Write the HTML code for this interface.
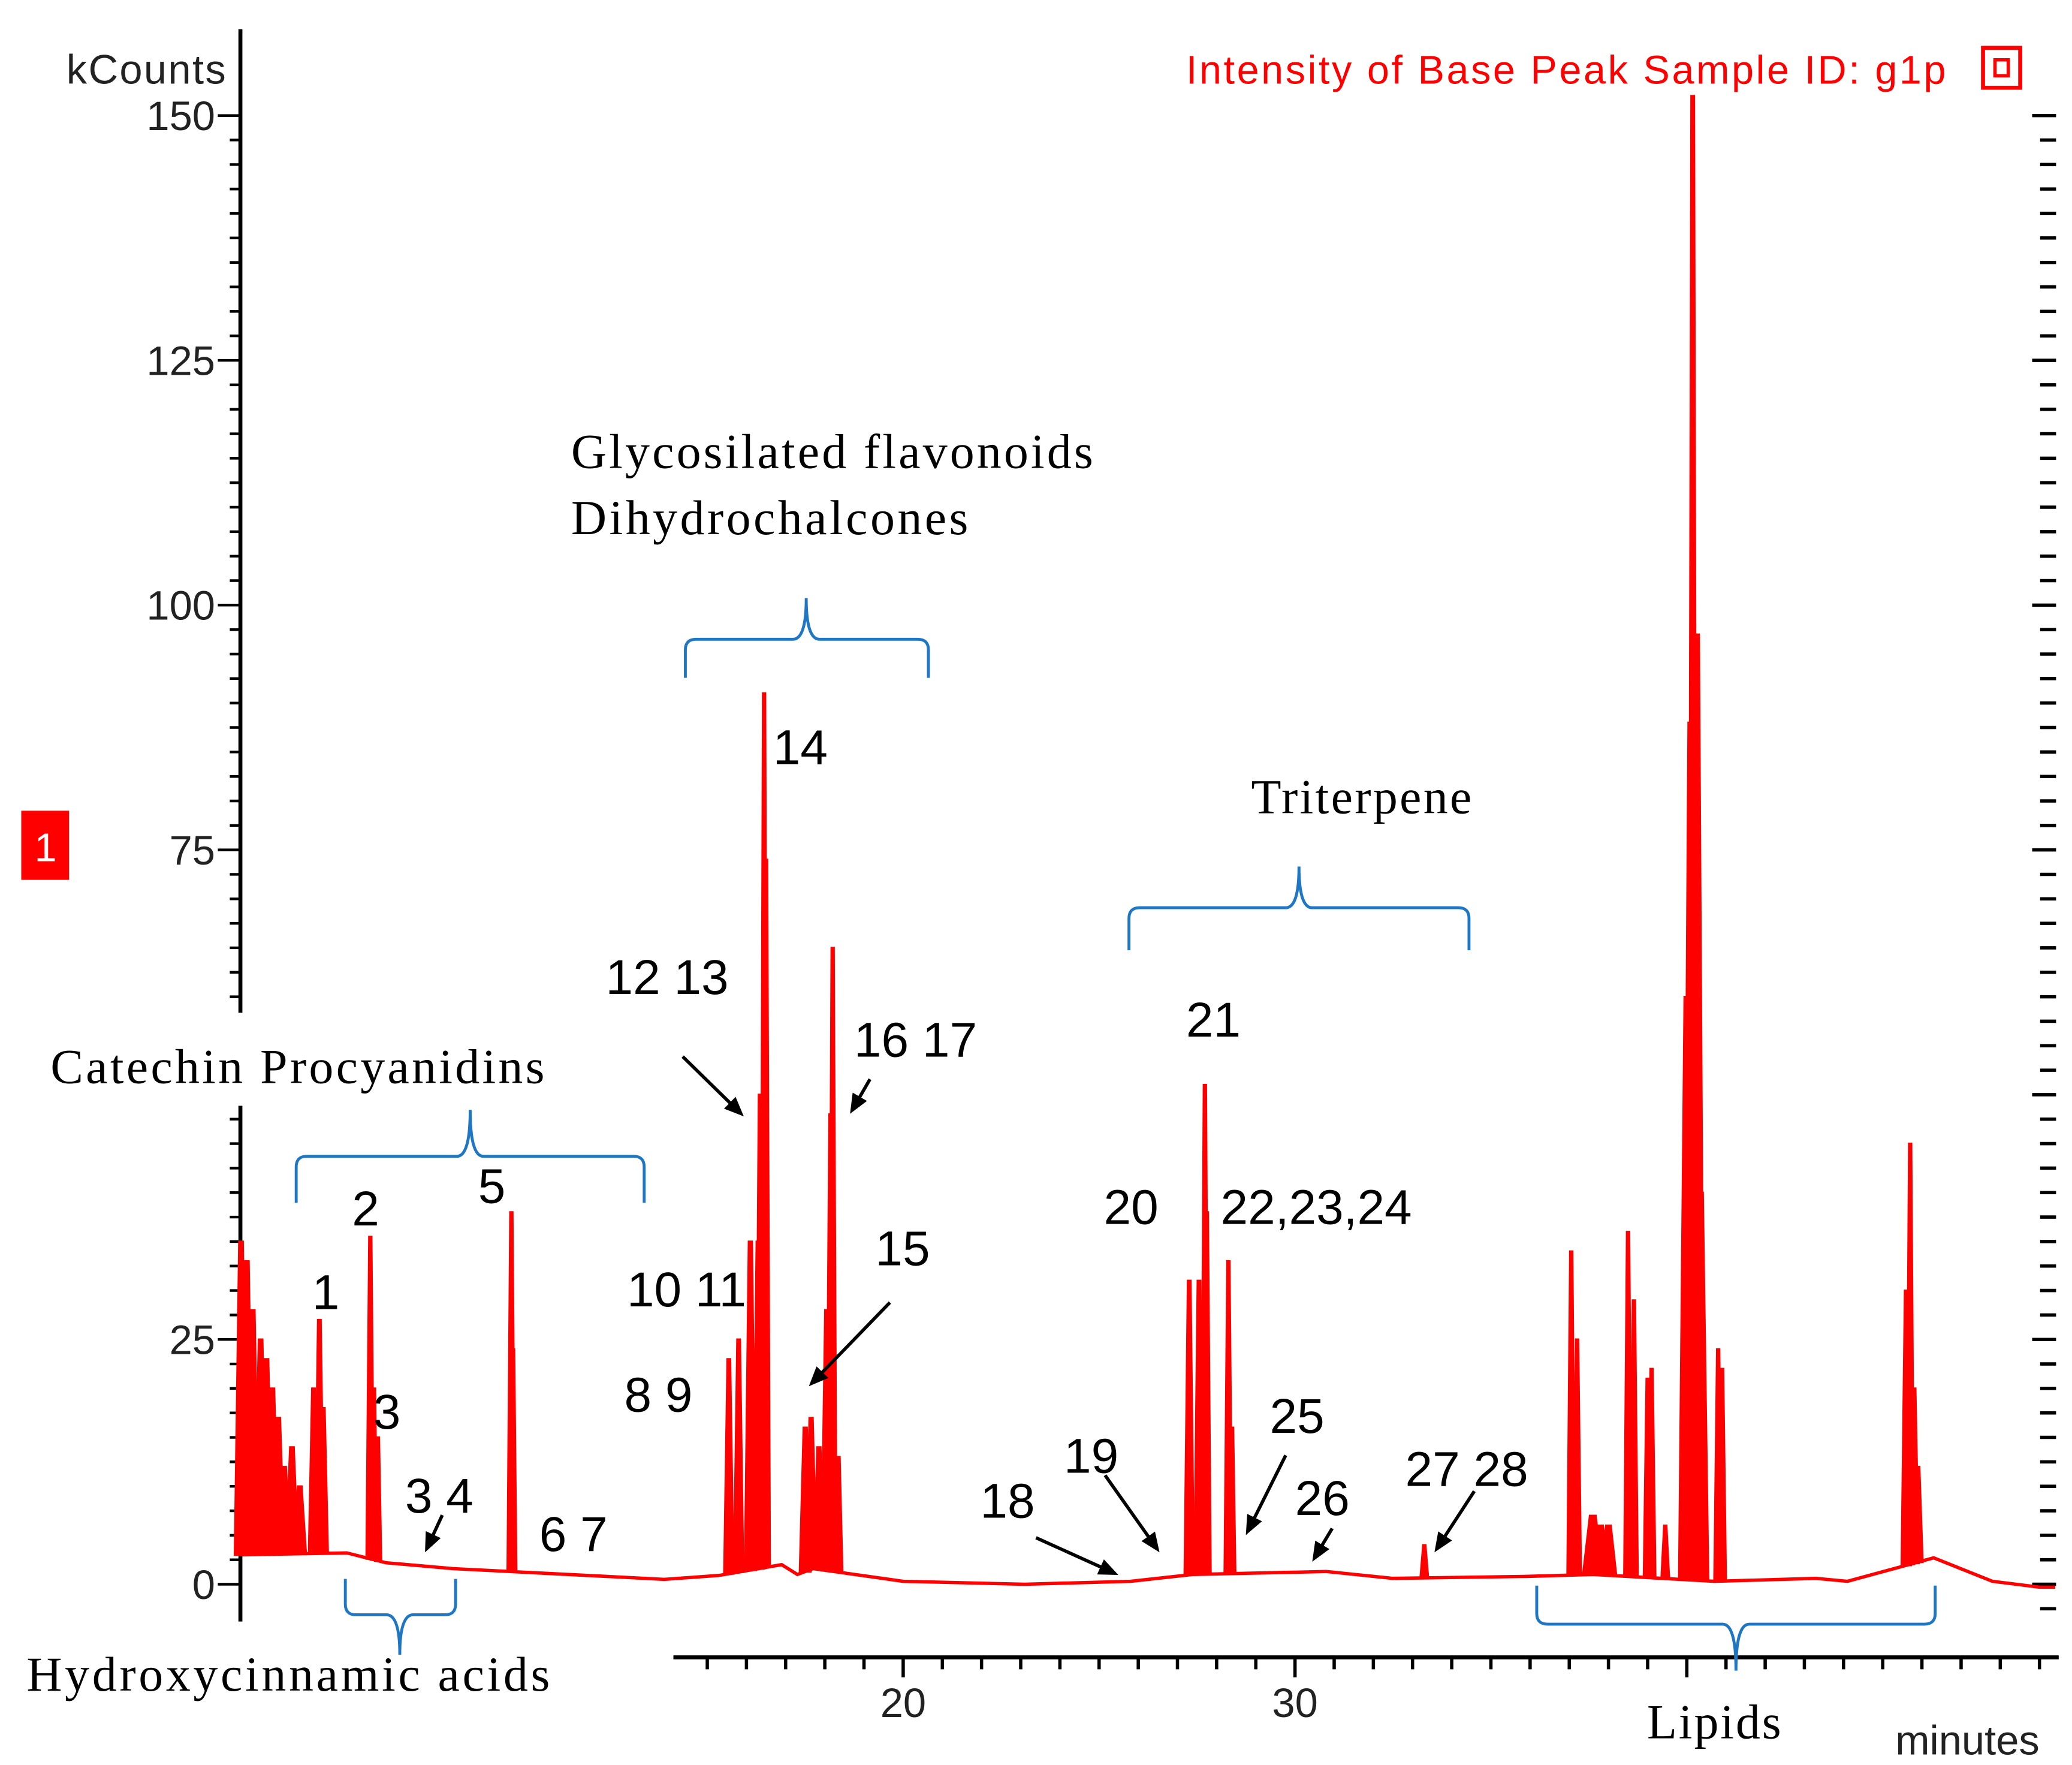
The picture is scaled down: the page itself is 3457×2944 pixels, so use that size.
<!DOCTYPE html>
<html><head><meta charset="utf-8"><style>
html,body{margin:0;padding:0;background:#fff}
svg{display:block}
.num{font-family:"Liberation Sans",sans-serif;font-size:37px;fill:#000}
.ser{font-family:"Liberation Serif",serif;font-size:37px;fill:#000}
.ax{font-family:"Liberation Sans",sans-serif;font-size:31px;fill:#222}
</style></head><body>
<svg id="chart" width="3457" height="2944" viewBox="0 0 1560 1328" preserveAspectRatio="none" xmlns="http://www.w3.org/2000/svg">
<g id="axes"></g>
<g id="trace"></g>
<g id="ann" stroke="#000" stroke-width="2.5" fill="none"></g>
<text class="ax" x="50" y="63" textLength="120">kCounts</text>
<text x="893" y="63" textLength="572" font-family="Liberation Sans,sans-serif" font-size="30" fill="#ff0000">Intensity of Base Peak Sample ID: g1p</text>
<rect x="1493" y="36" width="28" height="30" fill="none" stroke="#ff0000" stroke-width="3"/>
<rect x="1502" y="45" width="10" height="12" fill="none" stroke="#ff0000" stroke-width="2.5"/>
<rect x="16" y="610" width="36" height="52" fill="#ff0000"/>
<text x="26" y="648" font-family="Liberation Sans,sans-serif" font-size="30" fill="#fff">1</text>
<text class="ax" x="1427" y="1320">minutes</text>
<text class="ser" x="430" y="352" textLength="393">Glycosilated flavonoids</text>
<text class="ser" x="430" y="402" textLength="299">Dihydrochalcones</text>
<text class="ser" x="942" y="612" textLength="166">Triterpene</text>
<text class="ser" x="38" y="815" textLength="372">Catechin Procyanidins</text>
<text class="ser" x="20" y="1272" textLength="394">Hydroxycinnamic acids</text>
<text class="ser" x="1240" y="1308" textLength="101">Lipids</text>
</svg>
<script>
const yTicks=[0,25,50,75,100,125,150];
const yTickLabels=["0","25","","75","100","125","150"];
const xTicks=[20,30];
const baseT=[3.1,5.8,6.8,8.5,13.9,15.3,16.9,17.3,17.7,20.0,23.1,25.8,27.4,30.8,32.5,35.9,37.6,40.7,43.3,44.1,46.3,47.8,49.0,49.4];
const baseV=[3.0,3.2,2.2,1.6,0.5,0.9,2.0,1.0,1.6,0.3,0,0.3,1.0,1.3,0.6,0.8,1.0,0.3,0.6,0.3,2.7,0.3,-0.3,-0.3];
const peakT=[3.1,3.25,3.4,3.6,3.75,3.9,4.05,4.2,4.4,4.6,4.95,5.1,5.2,6.4,6.5,6.6,10.0,10.05,15.55,15.8,16.1,16.3,16.35,16.45,16.5,17.5,17.65,17.85,18.05,18.15,18.2,18.35,27.3,27.55,27.7,27.75,28.3,28.4,33.3,37.05,37.2,37.6,37.8,38.0,38.5,38.65,39.0,39.1,39.45,40.0,40.1,40.15,40.25,40.35,40.8,40.9,45.6,45.7,45.8,45.9];
const peakV=[35,33,28,25,23,20,17,12,14,10,20,27,18,35.5,20,15,38,24,23,25,35,35,50,91,74,16,17,14,28,48,65,13,31,31,51,38,33,16,4,34,25,7,6,6,36,29,21,22,6,60,88,152,97,40,24,22,30,45,20,12];
const peakW=[0.16,0.16,0.16,0.16,0.16,0.16,0.16,0.16,0.16,0.16,0.12,0.12,0.12,0.1,0.08,0.08,0.1,0.08,0.12,0.12,0.14,0.14,0.12,0.1,0.1,0.14,0.14,0.14,0.14,0.12,0.1,0.1,0.12,0.12,0.1,0.1,0.1,0.08,0.1,0.1,0.1,0.25,0.2,0.2,0.1,0.1,0.1,0.1,0.1,0.2,0.2,0.12,0.2,0.2,0.1,0.1,0.12,0.1,0.12,0.12];
const X=t=>90+29.5*t, Y=v=>1192-v*7.367;
const NS="http://www.w3.org/2000/svg";
function mk(tag,attrs,parent){const e=document.createElementNS(NS,tag);for(const k in attrs)e.setAttribute(k,attrs[k]);parent.appendChild(e);return e;}
function baseAt(t){for(let i=0;i<baseT.length-1;i++){if(t>=baseT[i]&&t<=baseT[i+1]){const f=(t-baseT[i])/(baseT[i+1]-baseT[i]);return baseV[i]+f*(baseV[i+1]-baseV[i]);}}return 0;}
const ax=document.getElementById('axes');
let l=mk('line',{x1:181,y1:22,x2:181,y2:1220,stroke:'#000','stroke-width':3},ax);


for(let v=0;v<=150;v+=2.5){const maj=v%25===0;
 const t=mk('line',{x1:maj?164:173,y1:Y(v),x2:181,y2:Y(v),stroke:'#000','stroke-width':2},ax);
 
 }
mk('rect',{x:160,y:762,width:30,height:70,fill:'#fff'},ax);
yTicks.forEach((v,i)=>{const t=mk('text',{x:162,y:Y(v)+11,'text-anchor':'end',class:'ax'},ax);t.textContent=yTickLabels[i];
 
 });
for(let v=-2.5;v<=150;v+=2.5){const maj=Math.abs(v%25)<0.01;
 const t=mk('line',{x1:maj?1530:1536,y1:Y(v),x2:1548,y2:Y(v),stroke:'#000','stroke-width':2.5},ax);
 
 }
l=mk('line',{x1:507,y1:1247,x2:1550,y2:1247,stroke:'#000','stroke-width':3},ax);


for(let m=15;m<=49;m++){const t=mk('line',{x1:X(m),y1:1247,x2:X(m),y2:m%10===0?1262:1256,stroke:'#000','stroke-width':2.5},ax);
 
 }
xTicks.forEach(v=>{const t=mk('text',{x:X(v),y:1292,'text-anchor':'middle',class:'ax'},ax);t.textContent=String(v);
 
 });
const tr=document.getElementById('trace');
const pts=baseT.map((t,i)=>X(t)+','+Y(baseV[i])).join(' ');
const bl=mk('polyline',{points:pts,fill:'none',stroke:'#ff0000','stroke-width':2.5},tr);


peakT.forEach((t,i)=>{const b=baseAt(t),w=peakW[i],h=peakV[i];
 const p=[[X(t-w),Y(b)],[X(t-w*0.3),Y(h)],[X(t+w*0.3),Y(h)],[X(t+w),Y(b)]].map(a=>a.join(',')).join(' ');
 const e=mk('polygon',{points:p,fill:'#ff0000',stroke:'#ff0000','stroke-width':1.5},tr);
 
 });
const an=document.getElementById('ann');
function brace(x1,x2,yEnd,yH,tipX,yTip,name){
 const r=8,sg=Math.sign(yH-yEnd);
 const p=`M${x1},${yEnd} L${x1},${yH-r*sg} Q${x1},${yH} ${x1+r},${yH} L${tipX-10},${yH} Q${tipX},${yH} ${tipX},${yTip} Q${tipX},${yH} ${tipX+10},${yH} L${x2-r},${yH} Q${x2},${yH} ${x2},${yH-r*sg} L${x2},${yEnd}`;
 const e=mk('path',{d:p,stroke:'#1f77c4','stroke-width':2.2,fill:'none'},an);
 
 }
brace(223,485,905,870,354,835,'brace-catechin');
brace(260,343,1188,1215,301,1245,'brace-hydroxycinnamic');
brace(516,699,510,481,607,450,'brace-glycosilated');
brace(850,1106,715,683,978,652,'brace-triterpene');
brace(1157,1457,1193,1222,1307,1257,'brace-lipids');
const arrows=[[514,795,560,840],[655,812,640,838],[670,980,609,1043],[333,1140,320,1168],[780,1157,842,1185],[832,1110,873,1168],[968,1095,938,1155],[1003,1150,988,1175],[1110,1122,1080,1168]];
arrows.forEach(a=>{const [x1,y1,x2,y2]=a;const ang=Math.atan2(y2-y1,x2-x1),L=16,s=0.4;
 const e=mk('line',{x1:x1,y1:y1,x2:x2-Math.cos(ang)*8,y2:y2-Math.sin(ang)*8},an);
 
 
 const h=mk('polygon',{points:`${x2},${y2} ${x2-L*Math.cos(ang-s)},${y2-L*Math.sin(ang-s)} ${x2-L*Math.cos(ang+s)},${y2-L*Math.sin(ang+s)}`,fill:'#000',stroke:'none'},an);
 
 });
const labels=[["1",235,985],["2",265,922],["3",281,1075],["5",360,905],["3 4",305,1138],["6 7",406,1167],["10 11",472,983],["8 9",470,1062],["12 13",456,748],["14",582,575],["16 17",643,795],["15",659,952],["18",738,1142],["19",801,1108],["20",831,921],["21",893,780],["22,23,24",919,921],["25",956,1078],["26",975,1140],["27 28",1058,1118]];
const svg=document.getElementById('chart');
labels.forEach(a=>{const t=mk('text',{x:a[1],y:a[2],class:'num'},svg);t.textContent=a[0];
 
 });
</script>
</body></html>
